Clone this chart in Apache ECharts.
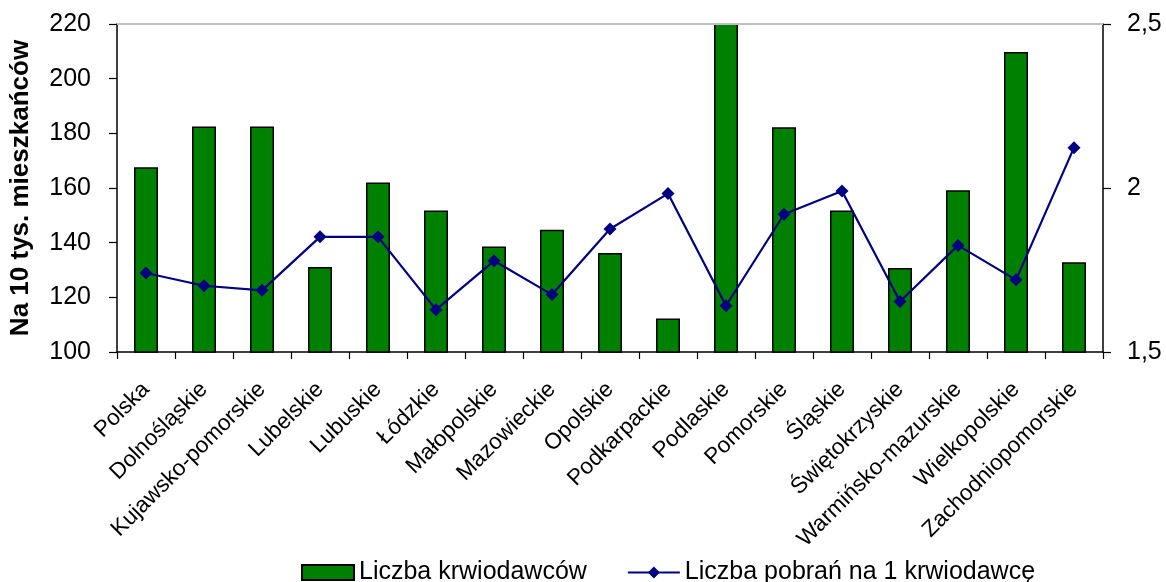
<!DOCTYPE html>
<html>
<head>
<meta charset="utf-8">
<script src="https://cdn.jsdelivr.net/npm/echarts@6/dist/echarts.min.js"></script>
<style>
html,body{margin:0;padding:0;background:#fff;}
#chart{width:1166px;height:582px;}
</style>
</head>
<body>
<div id="chart"></div>
<script>
const categories = ["Polska","Dolnośląskie","Kujawsko-pomorskie","Lubelskie","Lubuskie","Łódzkie","Małopolskie","Mazowieckie","Opolskie","Podkarpackie","Podlaskie","Pomorskie","Śląskie","Świętokrzyskie","Warmińsko-mazurskie","Wielkopolskie","Zachodniopomorskie"];
const donors = [167.6,182.5,182.5,131.1,162.0,151.8,138.6,144.7,136.2,112.3,228,182.2,151.8,130.7,159.2,209.8,132.8];
const donationsPerDonor = [1.741,1.702,1.688,1.851,1.851,1.629,1.778,1.675,1.875,1.983,1.641,1.920,1.991,1.654,1.825,1.720,2.123];
const leftTicks = {min:100,max:220,interval:20};
const rightTicks = {min:1.5,max:2.5,interval:0.5};

const chart = echarts.init(document.getElementById('chart'));
const font = "Liberation Sans, Arial, sans-serif";
chart.setOption({
  animation:false,
  textStyle:{fontFamily:font},
  grid:{left:116,right:63,top:24,bottom:230},
  legend:{
    left:296, top:555, itemGap:40, itemWidth:52, itemHeight:15,
    textStyle:{fontSize:25,color:'#000',fontFamily:font},
    data:[{name:'Liczba krwiodawców',icon:'rect'},{name:'Liczba pobrań na 1 krwiodawcę'}]
  },
  xAxis:{
    type:'category', data:categories,
    axisLine:{lineStyle:{color:'#000',width:1.5}},
    axisTick:{show:true,length:7,lineStyle:{color:'#000',width:1.2}},
    axisLabel:{rotate:45,interval:0,fontSize:22.5,color:'#000',margin:34,fontFamily:font},
    splitLine:{show:false}
  },
  yAxis:[{
    type:'value', min:leftTicks.min, max:leftTicks.max, interval:leftTicks.interval,
    name:'Na 10 tys. mieszkańców', nameLocation:'middle', nameGap:83, nameRotate:90,
    nameTextStyle:{fontSize:26,fontWeight:'bold',color:'#000',fontFamily:font},
    axisLine:{show:true,lineStyle:{color:'#000',width:1.5}},
    axisTick:{show:true,length:8,lineStyle:{color:'#000',width:1.2}},
    axisLabel:{fontSize:25,color:'#000',margin:26,fontFamily:font},
    splitLine:{show:false}
  },{
    type:'value', min:rightTicks.min, max:rightTicks.max, interval:rightTicks.interval,
    position:'right',
    axisLine:{show:true,lineStyle:{color:'#000',width:1.5}},
    axisTick:{show:true,length:8,lineStyle:{color:'#000',width:1.2}},
    axisLabel:{fontSize:25,color:'#000',margin:24,fontFamily:font,
      formatter:v=>String(v).replace('.',',')},
    splitLine:{show:false}
  }],
  series:[{
    name:'Liczba krwiodawców', type:'bar', yAxisIndex:0, data:donors,
    barWidth:24, clip:true,
    itemStyle:{color:'#008000',borderColor:'#000',borderWidth:1.5},
    markLine:{silent:true,symbol:'none',label:{show:false},
      lineStyle:{color:'#c0c0c0',type:'solid',width:2},
      data:[{yAxis:leftTicks.max}]}
  },{
    name:'Liczba pobrań na 1 krwiodawcę', type:'line', yAxisIndex:1, data:donationsPerDonor,
    symbol:'diamond', symbolSize:13,
    lineStyle:{color:'#000080',width:2.2},
    itemStyle:{color:'#000080'}
  }]
});
</script>
</body>
</html>
